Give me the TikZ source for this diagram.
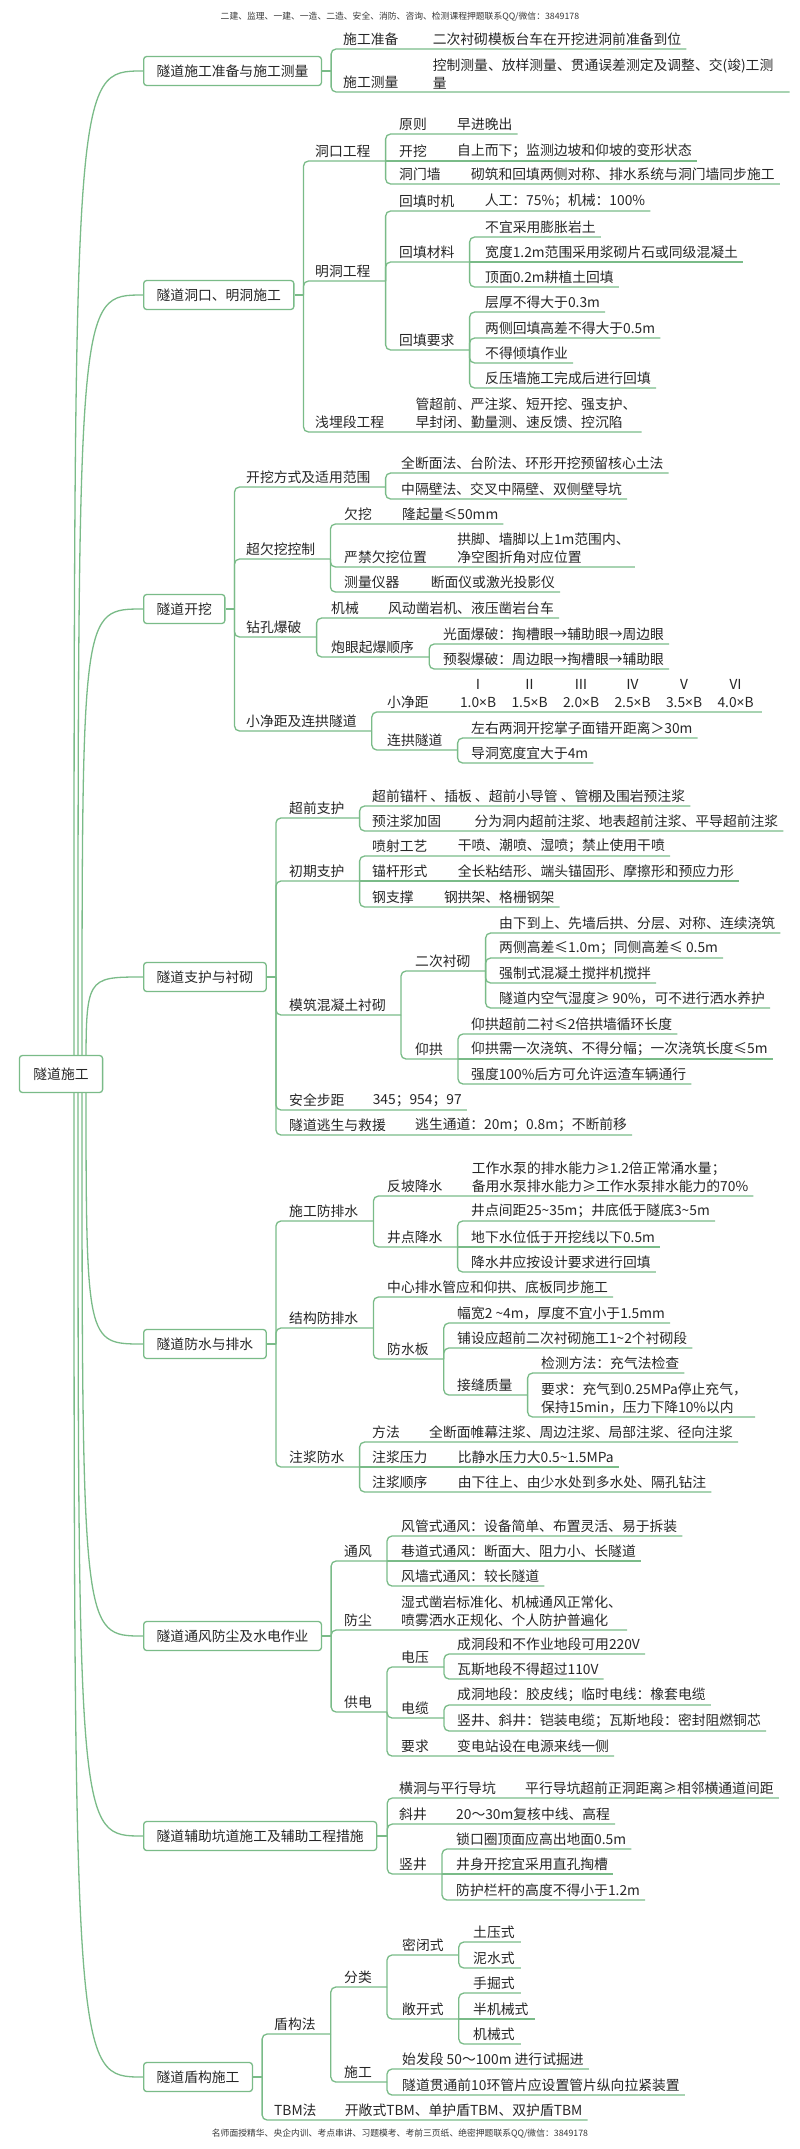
\documentclass[tikz,border=0pt]{standalone}
\usepackage{fontspec}
\setmainfont{Noto Sans CJK SC}
\newfontfamily\latinfont{Noto Sans}
\usetikzlibrary{positioning,backgrounds}
\definecolor{mmgreen}{RGB}{122,187,136}
\definecolor{mmtext}{RGB}{38,38,38}
\definecolor{mmgray}{RGB}{55,55,55}
\newcommand{\mmfont}{\fontsize{13.8pt}{18pt}\selectfont}
\newcommand{\tms}{{\latinfont ×}}
\tikzset{
  link/.style={draw=mmgreen, line width=1.3pt, rounded corners=5pt},
  limb/.style={draw=mmgreen, line width=1.3pt},
  topic/.style={draw=mmgreen, line width=1.3pt, fill=white, rounded corners=3pt,
    inner xsep=13pt, inner ysep=0pt, minimum height=29pt, text=mmtext, font=\mmfont},
  item/.style={anchor=south west, inner xsep=0pt, inner ysep=3pt, align=left,
    text=mmtext, font=\mmfont},
  note/.style={inner sep=0pt, text=mmgray, font=\fontsize{8.8pt}{10pt}\selectfont},
}
\begin{document}
\begin{tikzpicture}[x=1pt, y=-1pt]
  \useasboundingbox (0,0) rectangle (800,2149);

  %% header and footer
  \node[note] (head) at (400,17) {二建、监理、一建、一造、二造、安全、消防、咨询、检测课程押题联系QQ/微信：3849178};
  \node[note] (foot) at (400,2134) {名师面授精华、央企内训、考点串讲、习题模考、考前三页纸、绝密押题联系QQ/微信：3849178};

  %% central topic
  \node[topic, minimum height=37pt, inner xsep=14pt] (root) at (61,1074) {隧道施工};
  \coordinate (rootSa) at ([xshift=13pt]root.center);
  \coordinate (rootSb) at ([xshift=17pt]root.center);
  \coordinate (rootSc) at ([xshift=21pt]root.center);
  \coordinate (rootSd) at ([xshift=25pt]root.center);

  %% 1 preparation and survey
  \node[topic, anchor=west] (prep) at (143,71) {隧道施工准备与施工测量};
  \coordinate (prepX) at ([xshift=9pt]prep.east);
  \draw[link] (prep.east) -- (prepX);
  \node[item] (prepA) at (343,49) {施工准备};
  \node[item] (prepAd) at ([xshift=34pt]prepA.south east) {二次衬砌模板台车在开挖进洞前准备到位};
  \node[item] (prepB) at (343,92) {施工测量};
  \node[item] (prepBd) at ([xshift=34pt]prepB.south east) {控制测量、放样测量、贯通误差测定及调整、交(竣)工测\\量};
  \draw[link] (prepX) |- (prepA.south east) -- ([xshift=5pt]prepAd.south east);
  \draw[link] (prepX) |- (prepB.south east) -- ([xshift=16pt]prepBd.south east);

  %% 2 portal and open cut
  \node[topic, anchor=west] (portal) at (143,295) {隧道洞口、明洞施工};
  \coordinate (portalX) at ([xshift=9pt]portal.east);
  \draw[link] (portal.east) -- (portalX);
  \node[item] (portalA) at (315,161) {洞口工程};
  \coordinate (portalAX) at ([xshift=15pt]portalA.south east);
  \draw[link] (portalX) |- (portalAX);
  \node[item] (portalA1) at (399,134) {原则};
  \node[item] (portalA1d) at ([xshift=30pt]portalA1.south east) {早进晚出};
  \node[item] (portalA2) at (399,161) {开挖};
  \node[item] (portalA2d) at ([xshift=30pt]portalA2.south east) {自上而下；监测边坡和仰坡的变形状态};
  \node[item] (portalA3) at (399,184) {洞门墙};
  \node[item] (portalA3d) at ([xshift=30pt]portalA3.south east) {砌筑和回填两侧对称、排水系统与洞门墙同步施工};
  \draw[link] (portalAX) |- (portalA1.south east) -- ([xshift=5pt]portalA1d.south east);
  \draw[link] (portalAX) -- (portalA2.south east) -- ([xshift=5pt]portalA2d.south east);
  \draw[link] (portalAX) |- (portalA3.south east) -- ([xshift=5pt]portalA3d.south east);

  \node[item] (portalB) at (315,281) {明洞工程};
  \coordinate (portalBX) at ([xshift=15pt]portalB.south east);
  \draw[link] (portalX) |- (portalBX);
  \node[item] (portalB1) at (399,211) {回填时机};
  \node[item] (portalB1d) at ([xshift=30pt]portalB1.south east) {人工：75\%；机械：100\%};
  \draw[link] (portalBX) |- (portalB1.south east) -- ([xshift=5pt]portalB1d.south east);
  \node[item] (portalB2) at (399,262) {回填材料};
  \coordinate (portalB2X) at ([xshift=15pt]portalB2.south east);
  \draw[link] (portalBX) |- (portalB2X);
  \node[item] (portalB21) at (485,237) {不宜采用膨胀岩土};
  \node[item] (portalB22) at (485,262) {宽度1.2m范围采用浆砌片石或同级混凝土};
  \node[item] (portalB23) at (485,287) {顶面0.2m耕植土回填};
  \draw[link] (portalB2X) |- ([xshift=5pt]portalB21.south east);
  \draw[link] (portalB2X) -- ([xshift=5pt]portalB22.south east);
  \draw[link] (portalB2X) |- ([xshift=5pt]portalB23.south east);
  \node[item] (portalB3) at (399,350) {回填要求};
  \coordinate (portalB3X) at ([xshift=15pt]portalB3.south east);
  \draw[link] (portalBX) |- (portalB3X);
  \node[item] (portalB31) at (485,312) {层厚不得大于0.3m};
  \node[item] (portalB32) at (485,338) {两侧回填高差不得大于0.5m};
  \node[item] (portalB33) at (485,363) {不得倾填作业};
  \node[item] (portalB34) at (485,388) {反压墙施工完成后进行回填};
  \draw[link] (portalB3X) |- ([xshift=5pt]portalB31.south east);
  \draw[link] (portalB3X) |- ([xshift=5pt]portalB32.south east);
  \draw[link] (portalB3X) |- ([xshift=5pt]portalB33.south east);
  \draw[link] (portalB3X) |- ([xshift=5pt]portalB34.south east);

  \node[item] (portalC) at (315,432) {浅埋段工程};
  \node[item] (portalCd) at ([xshift=31pt]portalC.south east) {管超前、严注浆、短开挖、强支护、\\早封闭、勤量测、速反馈、控沉陷};
  \draw[link] (portalX) |- (portalC.south east) -- ([xshift=5pt]portalCd.south east);

  %% 3 excavation
  \node[topic, anchor=west] (excav) at (143,609) {隧道开挖};
  \coordinate (excavX) at ([xshift=9pt]excav.east);
  \draw[link] (excav.east) -- (excavX);
  \node[item] (excavA) at (246,487) {开挖方式及适用范围};
  \coordinate (excavAX) at ([xshift=15pt]excavA.south east);
  \draw[link] (excavX) |- (excavAX);
  \node[item] (excavA1) at (401,473) {全断面法、台阶法、环形开挖预留核心土法};
  \node[item] (excavA2) at (401,499) {中隔壁法、交叉中隔壁、双侧壁导坑};
  \draw[link] (excavAX) |- ([xshift=5pt]excavA1.south east);
  \draw[link] (excavAX) |- ([xshift=5pt]excavA2.south east);

  \node[item] (excavB) at (246,559) {超欠挖控制};
  \coordinate (excavBX) at ([xshift=15pt]excavB.south east);
  \draw[link] (excavX) |- (excavBX);
  \node[item] (excavB1) at (344,524) {欠挖};
  \node[item] (excavB1d) at ([xshift=30pt]excavB1.south east) {隆起量≤50mm};
  \node[item] (excavB2) at (344,567) {严禁欠挖位置};
  \node[item] (excavB2d) at ([xshift=30pt]excavB2.south east) {拱脚、墙脚以上1m范围内、\\净空图折角对应位置};
  \node[item] (excavB3) at (344,592) {测量仪器};
  \node[item] (excavB3d) at ([xshift=31pt]excavB3.south east) {断面仪或激光投影仪};
  \draw[link] (excavBX) |- (excavB1.south east) -- ([xshift=5pt]excavB1d.south east);
  \draw[link] (excavBX) |- (excavB2.south east) -- ([xshift=5pt]excavB2d.south east);
  \draw[link] (excavBX) |- (excavB3.south east) -- ([xshift=5pt]excavB3d.south east);

  \node[item] (excavC) at (246,637) {钻孔爆破};
  \coordinate (excavCX) at ([xshift=15pt]excavC.south east);
  \draw[link] (excavX) |- (excavCX);
  \node[item] (excavC1) at (331,618) {机械};
  \node[item] (excavC1d) at ([xshift=29pt]excavC1.south east) {风动凿岩机、液压凿岩台车};
  \draw[link] (excavCX) |- (excavC1.south east) -- ([xshift=5pt]excavC1d.south east);
  \node[item] (excavC2) at (331,657) {炮眼起爆顺序};
  \coordinate (excavC2X) at ([xshift=15pt]excavC2.south east);
  \draw[link] (excavCX) |- (excavC2X);
  \node[item] (excavC21) at (443,644) {光面爆破：掏槽眼→辅助眼→周边眼};
  \node[item] (excavC22) at (443,669) {预裂爆破：周边眼→掏槽眼→辅助眼};
  \draw[link] (excavC2X) |- ([xshift=5pt]excavC21.south east);
  \draw[link] (excavC2X) |- ([xshift=5pt]excavC22.south east);

  \node[item] (excavD) at (246,731) {小净距及连拱隧道};
  \coordinate (excavDX) at ([xshift=15pt]excavD.south east);
  \draw[link] (excavX) |- (excavDX);
  \node[item] (excavD1) at (387,712) {小净距};
  \node[anchor=base west, inner sep=0pt, text=mmtext, font=\mmfont] (excavD1d) at ([xshift=31pt]excavD1.base east)
    {\setlength{\tabcolsep}{7.7pt}\begin{tabular}[b]{@{}cccccc@{}}Ⅰ&Ⅱ&Ⅲ&Ⅳ&Ⅴ&Ⅵ\\1.0\tms B&1.5\tms B&2.0\tms B&2.5\tms B&3.5\tms B&4.0\tms B\end{tabular}};
  \coordinate (excavD1e) at (excavD1d.east |- excavD1.south);
  \draw[link] (excavDX) |- (excavD1.south east) -- ([xshift=8pt]excavD1e);
  \node[item] (excavD2) at (387,750) {连拱隧道};
  \coordinate (excavD2X) at ([xshift=15pt]excavD2.south east);
  \draw[link] (excavDX) |- (excavD2X);
  \node[item] (excavD21) at (471,738) {左右两洞开挖掌子面错开距离＞30m};
  \node[item] (excavD22) at (471,763) {导洞宽度宜大于4m};
  \draw[link] (excavD2X) |- ([xshift=5pt]excavD21.south east);
  \draw[link] (excavD2X) |- ([xshift=5pt]excavD22.south east);

  %% 4 support and lining
  \node[topic, anchor=west] (support) at (143,977) {隧道支护与衬砌};
  \coordinate (supportX) at ([xshift=9pt]support.east);
  \draw[link] (support.east) -- (supportX);
  \node[item] (supportA) at (289,818) {超前支护};
  \coordinate (supportAX) at ([xshift=15pt]supportA.south east);
  \draw[link] (supportX) |- (supportAX);
  \node[item] (supportA1) at (372,806) {超前锚杆 、插板 、超前小导管 、管棚及围岩预注浆};
  \node[item] (supportA2) at (372,831) {预注浆加固};
  \node[item] (supportA2d) at ([xshift=33pt]supportA2.south east) {分为洞内超前注浆、地表超前注浆、平导超前注浆};
  \draw[link] (supportAX) |- ([xshift=5pt]supportA1.south east);
  \draw[link] (supportAX) |- (supportA2.south east) -- ([xshift=5pt]supportA2d.south east);

  \node[item] (supportB) at (289,881) {初期支护};
  \coordinate (supportBX) at ([xshift=15pt]supportB.south east);
  \draw[link] (supportX) |- (supportBX);
  \node[item] (supportB1) at (372,856) {喷射工艺};
  \node[item] (supportB1d) at ([xshift=30pt]supportB1.south east) {干喷、潮喷、湿喷；禁止使用干喷};
  \node[item] (supportB2) at (372,881) {锚杆形式};
  \node[item] (supportB2d) at ([xshift=30pt]supportB2.south east) {全长粘结形、端头锚固形、摩擦形和预应力形};
  \node[item] (supportB3) at (372,907) {钢支撑};
  \node[item] (supportB3d) at ([xshift=30pt]supportB3.south east) {钢拱架、格栅钢架};
  \draw[link] (supportBX) |- (supportB1.south east) -- ([xshift=5pt]supportB1d.south east);
  \draw[link] (supportBX) -- (supportB2.south east) -- ([xshift=5pt]supportB2d.south east);
  \draw[link] (supportBX) |- (supportB3.south east) -- ([xshift=5pt]supportB3d.south east);

  \node[item] (supportC) at (289,1015) {模筑混凝土衬砌};
  \coordinate (supportCX) at ([xshift=15pt]supportC.south east);
  \draw[link] (supportX) |- (supportCX);
  \node[item] (supportC1) at (415,971) {二次衬砌};
  \coordinate (supportC1X) at ([xshift=15pt]supportC1.south east);
  \draw[link] (supportCX) |- (supportC1X);
  \node[item] (supportC11) at (499,933) {由下到上、先墙后拱、分层、对称、连续浇筑};
  \node[item] (supportC12) at (499,958) {两侧高差≤1.0m；同侧高差≤ 0.5m};
  \node[item] (supportC13) at (499,983) {强制式混凝土搅拌机搅拌};
  \node[item] (supportC14) at (499,1008) {隧道内空气湿度≥ 90\%，可不进行洒水养护};
  \draw[link] (supportC1X) |- ([xshift=5pt]supportC11.south east);
  \draw[link] (supportC1X) |- ([xshift=5pt]supportC12.south east);
  \draw[link] (supportC1X) |- ([xshift=5pt]supportC13.south east);
  \draw[link] (supportC1X) |- ([xshift=5pt]supportC14.south east);
  \node[item] (supportC2) at (415,1059) {仰拱};
  \coordinate (supportC2X) at ([xshift=15pt]supportC2.south east);
  \draw[link] (supportCX) |- (supportC2X);
  \node[item] (supportC21) at (471,1034) {仰拱超前二衬≤2倍拱墙循环长度};
  \node[item] (supportC22) at (471,1059) {仰拱需一次浇筑、不得分幅；一次浇筑长度≤5m};
  \node[item] (supportC23) at (471,1084) {强度100\%后方可允许运渣车辆通行};
  \draw[link] (supportC2X) |- ([xshift=5pt]supportC21.south east);
  \draw[link] (supportC2X) -- ([xshift=5pt]supportC22.south east);
  \draw[link] (supportC2X) |- ([xshift=5pt]supportC23.south east);

  \node[item] (supportD) at (289,1110) {安全步距};
  \node[item] (supportDd) at ([xshift=28pt]supportD.south east) {345；954；97};
  \draw[link] (supportX) |- (supportD.south east) -- ([xshift=5pt]supportDd.south east);
  \node[item] (supportE) at (289,1135) {隧道逃生与救援};
  \node[item] (supportEd) at ([xshift=29pt]supportE.south east) {逃生通道：20m；0.8m；不断前移};
  \draw[link] (supportX) |- (supportE.south east) -- ([xshift=5pt]supportEd.south east);

  %% 5 waterproofing and drainage
  \node[topic, anchor=west] (water) at (143,1344) {隧道防水与排水};
  \coordinate (waterX) at ([xshift=9pt]water.east);
  \draw[link] (water.east) -- (waterX);
  \node[item] (waterA) at (289,1221) {施工防排水};
  \coordinate (waterAX) at ([xshift=15pt]waterA.south east);
  \draw[link] (waterX) |- (waterAX);
  \node[item] (waterA1) at (387,1196) {反坡降水};
  \node[item] (waterA1d) at ([xshift=29pt]waterA1.south east) {工作水泵的排水能力≥1.2倍正常涌水量；\\备用水泵排水能力≥工作水泵排水能力的70\%};
  \draw[link] (waterAX) |- (waterA1.south east) -- ([xshift=5pt]waterA1d.south east);
  \node[item] (waterA2) at (387,1247) {井点降水};
  \coordinate (waterA2X) at ([xshift=15pt]waterA2.south east);
  \draw[link] (waterAX) |- (waterA2X);
  \node[item] (waterA21) at (471,1221) {井点间距25\textasciitilde35m；井底低于隧底3\textasciitilde5m};
  \node[item] (waterA22) at (471,1247) {地下水位低于开挖线以下0.5m};
  \node[item] (waterA23) at (471,1272) {降水井应按设计要求进行回填};
  \draw[link] (waterA2X) |- ([xshift=5pt]waterA21.south east);
  \draw[link] (waterA2X) -- ([xshift=5pt]waterA22.south east);
  \draw[link] (waterA2X) |- ([xshift=5pt]waterA23.south east);

  \node[item] (waterB) at (289,1328) {结构防排水};
  \coordinate (waterBX) at ([xshift=15pt]waterB.south east);
  \draw[link] (waterX) |- (waterBX);
  \node[item] (waterB1) at (387,1297) {中心排水管应和仰拱、底板同步施工};
  \draw[link] (waterBX) |- ([xshift=5pt]waterB1.south east);
  \node[item] (waterB2) at (387,1359) {防水板};
  \coordinate (waterB2X) at ([xshift=15pt]waterB2.south east);
  \draw[link] (waterBX) |- (waterB2X);
  \node[item] (waterB21) at (457,1323) {幅宽2 \textasciitilde4m，厚度不宜小于1.5mm};
  \node[item] (waterB22) at (457,1348) {铺设应超前二次衬砌施工1\textasciitilde2个衬砌段};
  \draw[link] (waterB2X) |- ([xshift=5pt]waterB21.south east);
  \draw[link] (waterB2X) |- ([xshift=5pt]waterB22.south east);
  \node[item] (waterB23) at (457,1395) {接缝质量};
  \coordinate (waterB23X) at ([xshift=15pt]waterB23.south east);
  \draw[link] (waterB2X) |- (waterB23X);
  \node[item] (waterB231) at (541,1373) {检测方法：充气法检查};
  \node[item] (waterB232) at (541,1417) {要求：充气到0.25MPa停止充气，\\保持15min，压力下降10\%以内};
  \draw[link] (waterB23X) |- ([xshift=5pt]waterB231.south east);
  \draw[link] (waterB23X) |- ([xshift=8pt]waterB232.south east);

  \node[item] (waterC) at (289,1467) {注浆防水};
  \coordinate (waterCX) at ([xshift=15pt]waterC.south east);
  \draw[link] (waterX) |- (waterCX);
  \node[item] (waterC1) at (372,1442) {方法};
  \node[item] (waterC1d) at ([xshift=29pt]waterC1.south east) {全断面帷幕注浆、周边注浆、局部注浆、径向注浆};
  \node[item] (waterC2) at (372,1467) {注浆压力};
  \node[item] (waterC2d) at ([xshift=30pt]waterC2.south east) {比静水压力大0.5\textasciitilde1.5MPa};
  \node[item] (waterC3) at (372,1492) {注浆顺序};
  \node[item] (waterC3d) at ([xshift=30pt]waterC3.south east) {由下往上、由少水处到多水处、隔孔钻注};
  \draw[link] (waterCX) |- (waterC1.south east) -- ([xshift=5pt]waterC1d.south east);
  \draw[link] (waterCX) -- (waterC2.south east) -- ([xshift=5pt]waterC2d.south east);
  \draw[link] (waterCX) |- (waterC3.south east) -- ([xshift=5pt]waterC3d.south east);

  %% 6 ventilation, dust, water and power
  \node[topic, anchor=west] (vent) at (143,1636) {隧道通风防尘及水电作业};
  \coordinate (ventX) at ([xshift=9pt]vent.east);
  \draw[link] (vent.east) -- (ventX);
  \node[item] (ventA) at (344,1561) {通风};
  \coordinate (ventAX) at ([xshift=15pt]ventA.south east);
  \draw[link] (ventX) |- (ventAX);
  \node[item] (ventA1) at (401,1536) {风管式通风：设备简单、布置灵活、易于拆装};
  \node[item] (ventA2) at (401,1561) {巷道式通风：断面大、阻力小、长隧道};
  \node[item] (ventA3) at (401,1586) {风墙式通风：较长隧道};
  \draw[link] (ventAX) |- ([xshift=5pt]ventA1.south east);
  \draw[link] (ventAX) -- ([xshift=5pt]ventA2.south east);
  \draw[link] (ventAX) |- ([xshift=5pt]ventA3.south east);

  \node[item] (ventB) at (344,1630) {防尘};
  \node[item] (ventBd) at ([xshift=29pt]ventB.south east) {湿式凿岩标准化、机械通风正常化、\\喷雾洒水正规化、个人防护普遍化};
  \draw[link] (ventX) |- (ventB.south east) -- ([xshift=5pt]ventBd.south east);

  \node[item] (ventC) at (344,1712) {供电};
  \coordinate (ventCX) at ([xshift=15pt]ventC.south east);
  \draw[link] (ventX) |- (ventCX);
  \node[item] (ventC1) at (401,1667) {电压};
  \coordinate (ventC1X) at ([xshift=15pt]ventC1.south east);
  \draw[link] (ventCX) |- (ventC1X);
  \node[item] (ventC11) at (457,1654) {成洞段和不作业地段可用220V};
  \node[item] (ventC12) at (457,1679) {瓦斯地段不得超过110V};
  \draw[link] (ventC1X) |- ([xshift=5pt]ventC11.south east);
  \draw[link] (ventC1X) |- ([xshift=5pt]ventC12.south east);
  \node[item] (ventC2) at (401,1718) {电缆};
  \coordinate (ventC2X) at ([xshift=15pt]ventC2.south east);
  \draw[link] (ventCX) |- (ventC2X);
  \node[item] (ventC21) at (457,1705) {成洞地段：胶皮线；临时电线：橡套电缆};
  \node[item] (ventC22) at (457,1731) {竖井、斜井：铠装电缆；瓦斯地段：密封阻燃铜芯};
  \draw[link] (ventC2X) |- ([xshift=5pt]ventC21.south east);
  \draw[link] (ventC2X) |- ([xshift=5pt]ventC22.south east);
  \node[item] (ventC3) at (401,1756) {要求};
  \node[item] (ventC3d) at ([xshift=28pt]ventC3.south east) {变电站设在电源来线一侧};
  \draw[link] (ventCX) |- (ventC3.south east) -- ([xshift=5pt]ventC3d.south east);

  %% 7 auxiliary adits
  \node[topic, anchor=west] (aux) at (143,1836) {隧道辅助坑道施工及辅助工程措施};
  \coordinate (auxX) at ([xshift=10pt]aux.east);
  \draw[link] (aux.east) -- (auxX);
  \node[item] (auxA) at (399,1798) {横洞与平行导坑};
  \node[item] (auxAd) at ([xshift=29pt]auxA.south east) {平行导坑超前正洞距离≥相邻横通道间距};
  \draw[link] (auxX) |- (auxA.south east) -- ([xshift=5pt]auxAd.south east);
  \node[item] (auxB) at (399,1824) {斜井};
  \node[item] (auxBd) at ([xshift=29pt]auxB.south east) {20～30m复核中线、高程};
  \draw[link] (auxX) |- (auxB.south east) -- ([xshift=5pt]auxBd.south east);
  \node[item] (auxC) at (399,1874) {竖井};
  \coordinate (auxCX) at ([xshift=15pt]auxC.south east);
  \draw[link] (auxX) |- (auxCX);
  \node[item] (auxC1) at (456,1849) {锁口圈顶面应高出地面0.5m};
  \node[item] (auxC2) at (456,1874) {井身开挖宜采用直孔掏槽};
  \node[item] (auxC3) at (456,1900) {防护栏杆的高度不得小于1.2m};
  \draw[link] (auxCX) |- ([xshift=5pt]auxC1.south east);
  \draw[link] (auxCX) -- ([xshift=5pt]auxC2.south east);
  \draw[link] (auxCX) |- ([xshift=5pt]auxC3.south east);

  %% 8 shield tunnelling
  \node[topic, anchor=west] (shield) at (143,2077) {隧道盾构施工};
  \coordinate (shieldX) at ([xshift=9pt]shield.east);
  \draw[link] (shield.east) -- (shieldX);
  \node[item] (shieldA) at (274,2034) {盾构法};
  \coordinate (shieldAX) at ([xshift=15pt]shieldA.south east);
  \draw[link] (shieldX) |- (shieldAX);
  \node[item] (shieldA1) at (344,1987) {分类};
  \coordinate (shieldA1X) at ([xshift=15pt]shieldA1.south east);
  \draw[link] (shieldAX) |- (shieldA1X);
  \node[item] (shieldA11) at (402,1955) {密闭式};
  \coordinate (shieldA11X) at ([xshift=15pt]shieldA11.south east);
  \draw[link] (shieldA1X) |- (shieldA11X);
  \node[item] (shieldA111) at (473,1942) {土压式};
  \node[item] (shieldA112) at (473,1968) {泥水式};
  \draw[link] (shieldA11X) |- ([xshift=6pt]shieldA111.south east);
  \draw[link] (shieldA11X) |- ([xshift=6pt]shieldA112.south east);
  \node[item] (shieldA12) at (402,2019) {敞开式};
  \coordinate (shieldA12X) at ([xshift=15pt]shieldA12.south east);
  \draw[link] (shieldA1X) |- (shieldA12X);
  \node[item] (shieldA121) at (473,1993) {手掘式};
  \node[item] (shieldA122) at (473,2019) {半机械式};
  \node[item] (shieldA123) at (473,2044) {机械式};
  \draw[link] (shieldA12X) |- ([xshift=6pt]shieldA121.south east);
  \draw[link] (shieldA12X) -- ([xshift=6pt]shieldA122.south east);
  \draw[link] (shieldA12X) |- ([xshift=6pt]shieldA123.south east);
  \node[item] (shieldA2) at (344,2082) {施工};
  \coordinate (shieldA2X) at ([xshift=15pt]shieldA2.south east);
  \draw[link] (shieldAX) |- (shieldA2X);
  \node[item] (shieldA21) at (402,2069) {始发段 50～100m 进行试掘进};
  \node[item] (shieldA22) at (402,2095) {隧道贯通前10环管片应设置管片纵向拉紧装置};
  \draw[link] (shieldA2X) |- ([xshift=5pt]shieldA21.south east);
  \draw[link] (shieldA2X) |- ([xshift=5pt]shieldA22.south east);
  \node[item] (shieldB) at (274,2120) {TBM法};
  \node[item] (shieldBd) at ([xshift=28pt]shieldB.south east) {开敞式TBM、单护盾TBM、双护盾TBM};
  \draw[link] (shieldX) |- (shieldB.south east) -- ([xshift=5pt]shieldBd.south east);

  %% curves from the central topic
  \begin{scope}[on background layer]
    \draw[limb] (rootSa) .. controls (rootSa |- prep.west) .. (prep.west);
    \draw[limb] (rootSb) .. controls (rootSb |- portal.west) .. (portal.west);
    \draw[limb] (rootSc) .. controls (rootSc |- excav.west) .. (excav.west);
    \draw[limb] (rootSd) .. controls (rootSd |- support.west) .. (support.west);
    \draw[limb] (rootSd) .. controls (rootSd |- water.west) .. (water.west);
    \draw[limb] (rootSc) .. controls (rootSc |- vent.west) .. (vent.west);
    \draw[limb] (rootSb) .. controls (rootSb |- aux.west) .. (aux.west);
    \draw[limb] (rootSa) .. controls (rootSa |- shield.west) .. (shield.west);
  \end{scope}
\end{tikzpicture}
\end{document}
